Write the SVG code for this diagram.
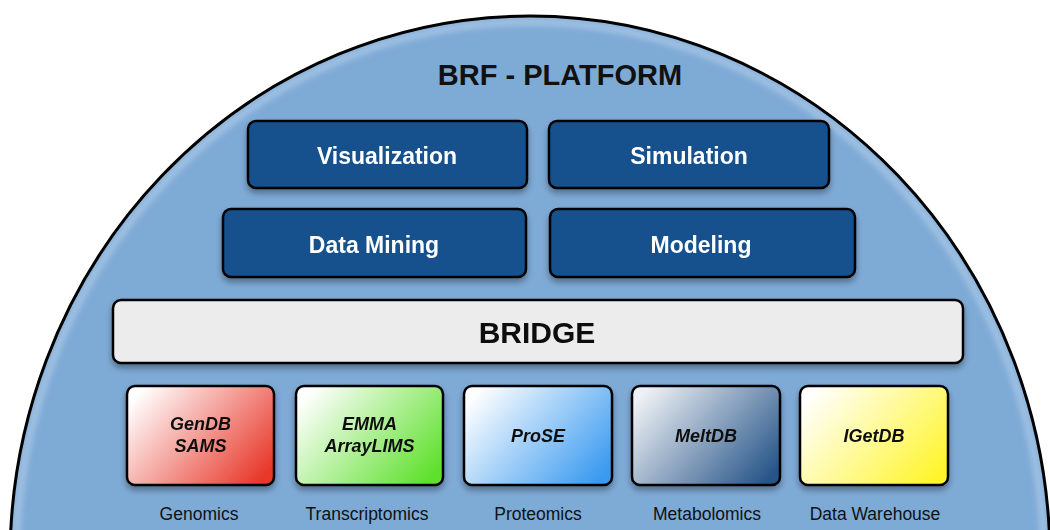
<svg xmlns="http://www.w3.org/2000/svg" width="1050" height="530" viewBox="0 0 1050 530">
<defs>
<style>
.tool rect{fill:#13518e;stroke:#000;stroke-width:2.5}
.tool text{fill:#fff;font-family:"Liberation Sans",Arial,sans-serif;font-weight:bold;font-size:23px;text-anchor:middle}
.db rect{stroke:#000;stroke-width:2.5}
.db text{fill:#111;font-family:"Liberation Sans",Arial,sans-serif;font-weight:bold;font-style:italic;font-size:18px;text-anchor:middle}
.lbl{fill:#111;font-family:"Liberation Sans",Arial,sans-serif;font-size:17.5px;text-anchor:middle}
</style>
<filter id="sh" x="-10%" y="-10%" width="120%" height="140%">
<feGaussianBlur in="SourceAlpha" stdDeviation="3"/>
<feOffset dx="0" dy="4" result="b"/>
<feComponentTransfer><feFuncA type="linear" slope="0.35"/></feComponentTransfer>
<feMerge><feMergeNode/><feMergeNode in="SourceGraphic"/></feMerge>
</filter>
<filter id="glow"><feGaussianBlur stdDeviation="3"/></filter>
<clipPath id="ec"><ellipse cx="530" cy="560" rx="520" ry="544"/></clipPath>
<linearGradient id="gRed" x1="0" y1="0.2" x2="1" y2="0.8"><stop offset="0" stop-color="#fff"/><stop offset="1" stop-color="#e8382a"/></linearGradient>
<linearGradient id="gGreen" x1="0" y1="0.2" x2="1" y2="0.8"><stop offset="0" stop-color="#fff"/><stop offset="1" stop-color="#5ee02c"/></linearGradient>
<linearGradient id="gBlue" x1="0" y1="0.2" x2="1" y2="0.8"><stop offset="0" stop-color="#fff"/><stop offset="1" stop-color="#3a9af0"/></linearGradient>
<linearGradient id="gSteel" x1="0" y1="0.2" x2="1" y2="0.8"><stop offset="0" stop-color="#eef1f5"/><stop offset="1" stop-color="#285689"/></linearGradient>
<linearGradient id="gYellow" x1="0" y1="0.2" x2="1" y2="0.8"><stop offset="0" stop-color="#fff"/><stop offset="1" stop-color="#fff52c"/></linearGradient>
</defs>
<rect width="1050" height="530" fill="#fff"/>
<g id="platform">
<ellipse cx="530" cy="560" rx="520" ry="544" fill="#7eaad6"/>
<ellipse cx="530" cy="560" rx="514" ry="538" fill="none" stroke="#a9c7e6" stroke-width="6" filter="url(#glow)" clip-path="url(#ec)"/>
<ellipse cx="530" cy="560" rx="520" ry="544" fill="none" stroke="#000" stroke-width="3"/>
<text x="560" y="85" font-family="'Liberation Sans',Arial,sans-serif" font-weight="bold" font-size="29" text-anchor="middle" fill="#111">BRF - PLATFORM</text>
</g>
<g id="visualization" class="tool" filter="url(#sh)"><rect x="248" y="121" width="279" height="67" rx="8"/><text x="387" y="164">Visualization</text></g>
<g id="simulation" class="tool" filter="url(#sh)"><rect x="549" y="121" width="280" height="67" rx="8"/><text x="689" y="164">Simulation</text></g>
<g id="datamining" class="tool" filter="url(#sh)"><rect x="223" y="209" width="303" height="68" rx="8"/><text x="374" y="253">Data Mining</text></g>
<g id="modeling" class="tool" filter="url(#sh)"><rect x="550" y="209" width="305" height="68" rx="8"/><text x="701" y="253">Modeling</text></g>
<g id="bridge" filter="url(#sh)"><rect x="113" y="300" width="850" height="63" rx="8" fill="#ececec" stroke="#000" stroke-width="2.5"/><text x="537" y="343" font-family="'Liberation Sans',Arial,sans-serif" font-weight="bold" font-size="30" text-anchor="middle" fill="#111">BRIDGE</text></g>
<g id="gendb" class="db" filter="url(#sh)"><rect x="127" y="386" width="147" height="99" rx="8" fill="url(#gRed)"/><text x="200.5" y="430">GenDB</text><text x="200.5" y="452">SAMS</text></g>
<g id="emma" class="db" filter="url(#sh)"><rect x="296" y="386" width="147" height="99" rx="8" fill="url(#gGreen)"/><text x="369.5" y="430">EMMA</text><text x="369.5" y="452">ArrayLIMS</text></g>
<g id="prose" class="db" filter="url(#sh)"><rect x="464" y="386" width="148" height="99" rx="8" fill="url(#gBlue)"/><text x="538" y="442">ProSE</text></g>
<g id="meltdb" class="db" filter="url(#sh)"><rect x="632" y="386" width="148" height="99" rx="8" fill="url(#gSteel)"/><text x="706" y="442">MeltDB</text></g>
<g id="igetdb" class="db" filter="url(#sh)"><rect x="800" y="386" width="148" height="99" rx="8" fill="url(#gYellow)"/><text x="874" y="442">IGetDB</text></g>
<g id="labels">
<text class="lbl" x="199" y="520">Genomics</text>
<text class="lbl" x="367" y="520">Transcriptomics</text>
<text class="lbl" x="538" y="520">Proteomics</text>
<text class="lbl" x="707" y="520">Metabolomics</text>
<text class="lbl" x="875" y="520">Data Warehouse</text>
</g>
<g id="connectors"/>
</svg>
